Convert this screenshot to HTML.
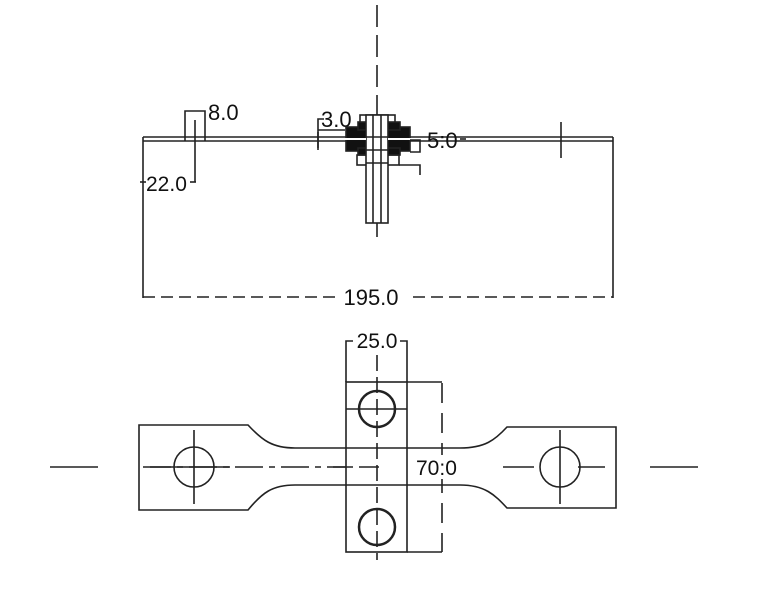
<!DOCTYPE html>
<html><head><style>body{margin:0;background:#fff}svg{display:block}</style></head><body>
<svg width="768" height="605" xmlns="http://www.w3.org/2000/svg" font-family="Liberation Sans, sans-serif" fill="none" stroke="#222" stroke-width="1.6">
<!-- top view -->
<line x1="377" y1="5" x2="377" y2="240" stroke-dasharray="22,8"/>
<line x1="143" y1="137" x2="613" y2="137"/>
<line x1="143" y1="141" x2="613" y2="141"/>
<line x1="143" y1="137" x2="143" y2="298"/>
<line x1="613" y1="137" x2="613" y2="298"/>
<line x1="143" y1="297" x2="613" y2="297" stroke-dasharray="12,6"/>
<rect x="336" y="284" width="72" height="24" fill="#fff" stroke="none"/>
<text x="371" y="305" font-size="22" fill="#111" stroke="none" text-anchor="middle">195.0</text>
<!-- 8.0 -->
<polyline points="185,141 185,111 205,111 205,141"/>
<line x1="195" y1="120" x2="195" y2="182"/>
<line x1="190" y1="182" x2="196" y2="182"/>
<text x="208" y="120" font-size="22" fill="#111" stroke="none">8.0</text>
<text x="146" y="191" font-size="21" fill="#111" stroke="none">22.0</text>
<line x1="140" y1="182" x2="146" y2="182"/>
<!-- 3.0 -->
<polyline points="318,148 318,119 324,119"/>
<text x="321" y="127" font-size="22" fill="#111" stroke="none">3.0</text>
<line x1="318" y1="130" x2="345" y2="130"/>
<!-- nut stack -->
<rect x="360" y="115" width="35" height="12"/>
<rect x="346" y="127" width="64" height="24" fill="#111"/>
<rect x="358" y="122" width="42" height="8" fill="#111"/>
<rect x="358" y="148" width="42" height="7" fill="#111"/>
<rect x="357" y="155" width="42" height="10"/>
<rect x="366" y="115" width="22" height="108" fill="#fff"/>
<line x1="373" y1="115" x2="373" y2="223"/>
<line x1="381" y1="115" x2="381" y2="223"/>
<line x1="366" y1="137" x2="388" y2="137"/>
<line x1="366" y1="150" x2="388" y2="150"/>
<line x1="366" y1="163" x2="388" y2="163"/>
<line x1="340" y1="139" x2="366" y2="139" stroke="#fff" stroke-width="2"/>
<line x1="388" y1="139" x2="420" y2="139" stroke="#fff" stroke-width="2"/>
<polyline points="399,165 420,165 420,175"/>
<polyline points="410,140 420,140 420,152 410,152"/>
<text x="427" y="148" font-size="22" fill="#111" stroke="none">5:0</text>
<line x1="460" y1="139" x2="466" y2="139"/>
<line x1="318" y1="132" x2="318" y2="150"/>
<line x1="561" y1="122" x2="561" y2="158"/>
<!-- bottom view -->
<line x1="50" y1="467" x2="98" y2="467"/>
<line x1="650" y1="467" x2="698" y2="467"/>
<path d="M139,425 H248 C262,440 272,448 295,448 H460 C485,448 495,440 507,427 H616 V508 H507 C495,495 485,485 460,485 H295 C272,485 262,493 248,510 H139 Z" fill="#fff"/>
<line x1="143" y1="467" x2="385" y2="467" stroke-dasharray="28,6,6,6"/>
<rect x="346" y="382" width="61" height="170" fill="#fff"/>
<line x1="346" y1="448" x2="407" y2="448"/>
<line x1="346" y1="485" x2="407" y2="485"/>
<line x1="346" y1="409" x2="407" y2="409"/>
<line x1="377" y1="355" x2="377" y2="560" stroke-dasharray="16,6"/>
<line x1="150" y1="467" x2="230" y2="467"/>
<line x1="333" y1="467" x2="385" y2="467" stroke-dasharray="20,6"/>
<circle cx="194" cy="467" r="20"/>
<line x1="194" y1="430" x2="194" y2="504"/>
<circle cx="560" cy="467" r="20"/>
<line x1="560" y1="430" x2="560" y2="504"/>
<line x1="503" y1="467" x2="534" y2="467"/>
<line x1="578" y1="467" x2="605" y2="467"/>
<circle cx="377" cy="409" r="18" stroke-width="2.5"/>
<circle cx="377" cy="527" r="18" stroke-width="2.5"/>
<!-- 25.0 -->
<polyline points="346,382 346,341 353,341"/>
<polyline points="400,341 407,341 407,382"/>
<text x="377" y="348" font-size="21" fill="#111" stroke="none" text-anchor="middle">25.0</text>
<!-- 70.0 -->
<line x1="407" y1="382" x2="442" y2="382"/>
<line x1="407" y1="552" x2="442" y2="552"/>
<line x1="442" y1="383" x2="442" y2="552" stroke-dasharray="20,10"/>
<rect x="414" y="455" width="50" height="24" fill="#fff" stroke="none"/>
<text x="416" y="475" font-size="21" fill="#111" stroke="none">70:0</text>
</svg>
</body></html>
